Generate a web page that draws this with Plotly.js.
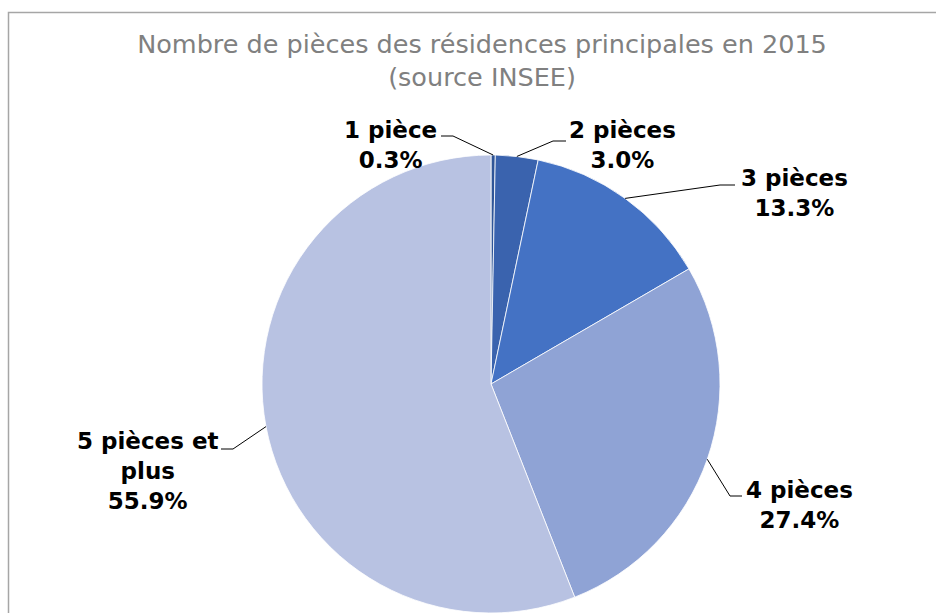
<!DOCTYPE html>
<html>
<head>
<meta charset="utf-8">
<script src="https://cdn.plot.ly/plotly-3.0.1.min.js"></script>
<style>html,body{margin:0;padding:0;background:#fff;}#chart{width:936px;height:613px;}</style>
</head>
<body>
<div id="chart"></div>
<script>
// ---- data ----
const categories = ['1 pièce', '2 pièces', '3 pièces', '4 pièces', '5 pièces et plus'];
const values = [0.3, 3.0, 13.3, 27.4, 55.9];
const colors = ['#2F5597', '#3A63AE', '#4472C4', '#8FA3D5', '#B8C2E2'];
const titleText = 'Nombre de pièces des résidences principales en 2015<br>(source INSEE)';

// ---- geometry (layout only) ----
const W = 936, H = 613;
const CX = 491, CY = 384, R = 229;
// label block centres and leader elbows (pixels)
const labelPos = [
  {x: 390, y: 145, elbow: [453, 136], end: [441, 136]},
  {x: 622, y: 145, elbow: [553, 141], end: [566, 141]},
  {x: 794, y: 193, elbow: [720, 185], end: [735, 185]},
  {x: 799, y: 505, elbow: [730, 496], end: [742, 496]},
  {x: 147, y: 471, elbow: [233, 449], end: [221, 449]}
];

const px = x => x / W;
const py = y => 1 - y / H;

const total = values.reduce((a, b) => a + b, 0);
let cum = 0;
const annotations = [];
const shapes = [];
values.forEach((v, i) => {
  const a = 2 * Math.PI * (cum + v / 2) / total;
  cum += v;
  const tx = CX + R * Math.sin(a), ty = CY - R * Math.cos(a);
  const L = labelPos[i];
  shapes.push({
    type: 'path', xref: 'paper', yref: 'paper',
    path: `M ${px(tx)} ${py(ty)} L ${px(L.elbow[0])} ${py(L.elbow[1])} L ${px(L.end[0])} ${py(L.end[1])}`,
    line: {color: '#000000', width: 1}
  });
  annotations.push({
    xref: 'paper', yref: 'paper', x: px(L.x), y: py(L.y),
    xanchor: 'center', yanchor: 'middle', align: 'center', showarrow: false,
    text: categories[i].replace(' et ', ' et<br>') + '<br>' + v.toFixed(1) + '%',
    font: {family: 'DejaVu Sans', size: 23, color: '#000000', weight: 'bold'}
  });
});

shapes.push({
  type: 'rect', xref: 'paper', yref: 'paper',
  x0: px(8.5), x1: 1.2, y0: -0.2, y1: py(12.5),
  line: {color: '#a6a6a6', width: 1.5}, layer: 'below'
});

const trace = {
  type: 'pie',
  labels: categories,
  values: values,
  sort: false,
  direction: 'clockwise',
  rotation: 0,
  textinfo: 'none',
  hoverinfo: 'skip',
  marker: {colors: colors, line: {color: '#ffffff', width: 0.8}},
  domain: {x: [px(CX - R), px(CX + R)], y: [py(CY + R), py(CY - R)]},
  showlegend: false
};

const layout = {
  width: W, height: H,
  margin: {l: 0, r: 0, t: 0, b: 0},
  paper_bgcolor: '#ffffff',
  showlegend: false,
  title: {
    text: titleText,
    x: px(482), xanchor: 'center',
    y: py(53), yanchor: 'middle', yref: 'container',
    font: {family: 'DejaVu Sans', size: 25.5, color: '#808080'}
  },
  annotations: annotations,
  shapes: shapes
};

Plotly.newPlot('chart', [trace], layout, {displayModeBar: false, staticPlot: true});
</script>
</body>
</html>
